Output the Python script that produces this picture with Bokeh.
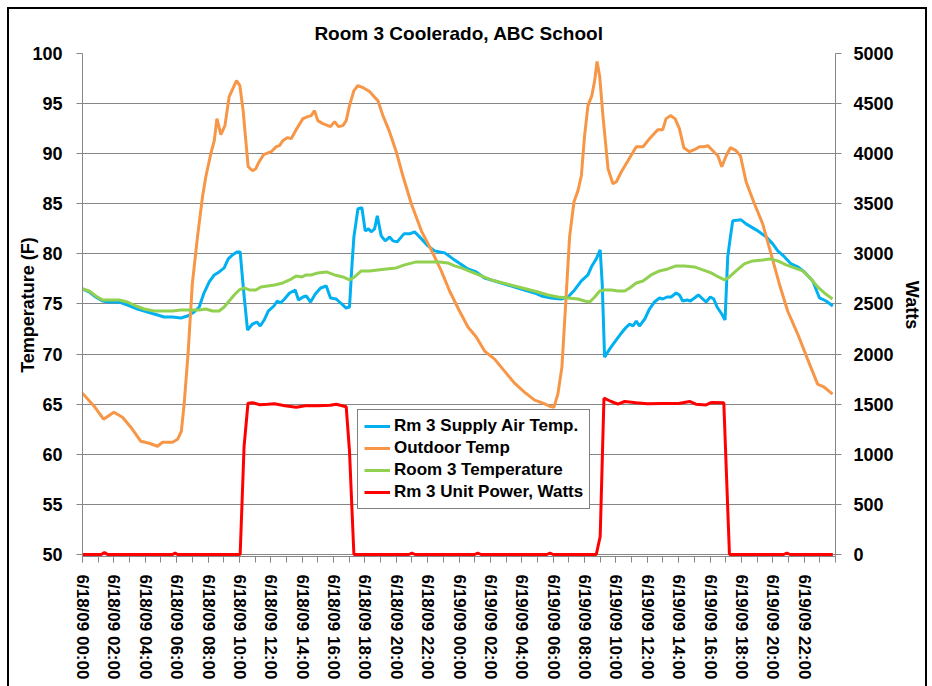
from bokeh.plotting import figure
from bokeh.models import Range1d, LinearAxis, FixedTicker, Legend, LegendItem
from bokeh.embed import file_html
from bokeh.resources import INLINE

# ---------------- data (hours since 6/18/09 00:00) ----------------
supply_hours = [0, 0.43, 0.85, 1.28, 1.7, 2.34, 2.87, 3.51, 4.14, 4.78, 5.2, 5.74, 6.27, 6.7, 7.12,
                7.44, 7.72, 8.08, 8.4, 8.71, 9.03, 9.29, 9.56, 9.84, 10.05, 10.27, 10.52, 10.84, 11.12,
                11.33, 11.58, 11.84, 12.2, 12.41, 12.62, 12.88, 13.2, 13.56, 13.77, 14.05, 14.26, 14.54,
                14.84, 15.18, 15.54, 15.81, 16.17, 16.45, 16.81, 17.02, 17.17, 17.3, 17.56, 17.81, 18.02,
                18.23, 18.4, 18.62, 18.79, 19.04, 19.3, 19.58, 19.79, 20.06, 20.49, 20.85, 21.17, 21.49,
                22.02, 22.45, 23.09, 23.62, 24.1, 24.57, 25.1, 25.63, 26.27, 26.9, 27.54, 28.17, 28.82,
                29.25, 29.88, 30.52, 30.95, 31.37, 31.8, 32.22, 32.47, 32.75, 33.0, 33.13, 33.28, 33.6,
                33.92, 34.3, 34.67, 34.88, 35.09, 35.3, 35.5, 35.84, 36.14, 36.46, 36.78, 36.99, 37.26,
                37.52, 37.84, 38.05, 38.26, 38.54, 38.75, 39.01, 39.26, 39.54, 39.75, 40.02, 40.24, 40.45,
                40.75, 40.96, 41.13, 41.3, 41.45, 41.98, 42.3, 42.62, 42.94, 43.22, 43.58, 44.0, 44.32,
                44.75, 45.17, 45.6, 46.02, 46.55, 46.98, 47.4, 47.83]
supply_temp = [76.5, 76.2, 75.7, 75.3, 75.2, 75.2, 74.9, 74.5, 74.2, 73.9, 73.7, 73.7, 73.6, 73.8, 74.2,
               74.7, 76.0, 77.2, 77.9, 78.2, 78.6, 79.5, 79.9, 80.2, 80.2, 76.3, 72.4, 73.0, 73.2,
               72.8, 73.4, 74.3, 74.8, 75.3, 75.1, 75.5, 76.1, 76.4, 75.4, 75.7, 75.8, 75.2,
               76.0, 76.6, 76.8, 75.6, 75.5, 75.1, 74.6, 74.7, 78.7, 81.7, 84.5, 84.6, 82.3,
               82.5, 82.2, 82.5, 83.8, 81.8, 81.3, 81.7, 81.3, 81.2, 82.0, 82.0, 82.2, 81.7,
               80.8, 80.3, 80.1, 79.5, 79.0, 78.5, 78.2, 77.6, 77.3, 77.0, 76.7, 76.4, 76.1,
               75.8, 75.6, 75.5, 75.7, 76.4, 77.3, 77.9, 78.8, 79.5, 80.4, 77.0, 69.7, 70.5,
               71.2, 72.0, 72.7, 73.0, 72.8, 73.3, 72.8, 73.5, 74.5, 75.2, 75.6, 75.5, 75.7,
               75.7, 76.1, 75.9, 75.3, 75.4, 75.3, 75.6, 75.9, 75.5, 75.2, 75.7, 75.5, 74.7,
               74.0, 73.4, 79.7, 81.7, 83.3, 83.4, 83.0, 82.7, 82.4, 82.1, 81.7, 81.0, 80.3,
               79.7, 79.0, 78.7, 78.2, 77.3, 75.6, 75.3, 74.8]

outdoor_hours = [0, 0.74, 1.34, 2.0, 2.55, 3.08, 3.72, 4.25, 4.78, 5.1, 5.74, 6.06, 6.3, 6.48, 6.74, 7.0,
                 7.33, 7.65, 7.86, 8.18, 8.4, 8.57, 8.82, 9.08, 9.35, 9.82, 10.03, 10.24, 10.41, 10.56,
                 10.84, 11.05, 11.26, 11.54, 12.03, 12.35, 12.56, 12.77, 13.05, 13.3, 13.62, 14.05,
                 14.37, 14.58, 14.79, 15.0, 15.32, 15.81, 16.07, 16.32, 16.6, 16.81, 17.02, 17.3, 17.56,
                 17.87, 18.3, 18.58, 18.83, 19.15, 19.57, 20.0, 20.42, 20.96, 21.6, 22.23, 22.87, 23.4,
                 24.03, 24.57, 25.1, 25.63, 26.27, 26.9, 27.54, 28.17, 28.82, 29.35, 29.78, 30.05, 30.3,
                 30.56, 30.8, 31.05, 31.33, 31.58, 31.8, 32.0, 32.22, 32.47, 32.65, 32.8, 32.97, 33.18,
                 33.5, 33.81, 34.03, 34.35, 34.77, 35.3, 35.73, 36.2, 36.67, 36.99, 37.2, 37.48, 37.77,
                 38.05, 38.33, 38.69, 39.01, 39.33, 39.64, 39.86, 40.18, 40.5, 40.75, 41.03, 41.3, 41.66,
                 41.94, 42.3, 42.83, 43.36, 43.89, 44.42, 44.95, 45.59, 46.22, 46.86, 47.28, 47.81]
outdoor_temp = [66.1, 64.8, 63.5, 64.2, 63.7, 62.7, 61.3, 61.1, 60.8, 61.2, 61.2, 61.5, 62.3, 65.0, 70.3, 77.0,
                81.7, 85.7, 87.7, 90.0, 91.3, 93.5, 91.9, 92.8, 95.7, 97.3, 96.8, 94.3, 91.3, 88.7,
                88.3, 88.5, 89.2, 89.9, 90.2, 90.7, 90.8, 91.3, 91.6, 91.5, 92.4, 93.5,
                93.7, 93.8, 94.3, 93.3, 93.0, 92.7, 93.2, 92.7, 92.8, 93.3, 94.8, 96.3, 96.8,
                96.6, 96.2, 95.7, 95.3, 93.8, 92.2, 90.2, 87.8, 85.0, 82.3, 80.4, 78.3, 76.3,
                74.3, 72.7, 71.7, 70.3, 69.5, 68.3, 67.1, 66.2, 65.4, 65.1, 64.8, 64.7, 66.0,
                68.7, 75.0, 81.7, 85.2, 86.3, 87.8, 91.7, 94.8, 95.8, 97.3, 99.2, 97.7, 93.7,
                88.5, 87.0, 87.2, 88.2, 89.3, 90.7, 90.7, 91.6, 92.4, 92.4, 93.5, 93.8, 93.5,
                92.5, 90.6, 90.2, 90.4, 90.7, 90.7, 90.8, 90.3, 89.8, 88.7, 89.8, 90.6, 90.3,
                89.8, 87.2, 85.0, 83.0, 80.0, 77.0, 74.3, 72.0, 69.5, 67.0, 66.7, 66.0]

room_hours = [0, 0.43, 0.85, 1.28, 1.81, 2.34, 2.87, 3.4, 3.93, 4.57, 5.2, 5.74, 6.27, 6.91, 7.44, 7.86,
              8.29, 8.71, 9.03, 9.35, 9.67, 9.99, 10.31, 10.63, 11.05, 11.37, 11.8, 12.24, 12.77, 13.2,
              13.62, 13.99, 14.26, 14.58, 15.0, 15.54, 16.07, 16.6, 17.02, 17.34, 17.77, 18.3, 18.83,
              19.36, 20.0, 20.53, 21.28, 22.02, 22.76, 23.29, 23.72, 24.15, 24.78, 25.42, 26.06, 26.8,
              27.54, 28.29, 29.03, 29.67, 30.31, 30.95, 31.58, 32.01, 32.33, 32.65, 32.97, 33.28, 33.71,
              34.13, 34.56, 34.88, 35.3, 35.73, 36.24, 36.78, 37.31, 37.84, 38.37, 39.01, 39.54, 40.07,
              40.54, 40.92, 41.24, 41.66, 42.19, 42.72, 43.36, 43.79, 44.32, 44.85, 45.38, 45.91, 46.44,
              46.86, 47.29, 47.81]
room_temp = [76.5, 76.3, 75.8, 75.4, 75.4, 75.4, 75.2, 74.8, 74.5, 74.3, 74.3, 74.3, 74.4, 74.4, 74.4, 74.5,
             74.3, 74.3, 74.7, 75.3, 75.9, 76.4, 76.6, 76.4, 76.4, 76.7, 76.8, 76.9, 77.1, 77.4,
             77.8, 77.7, 77.9, 77.9, 78.1, 78.2, 77.9, 77.7, 77.4, 77.7, 78.3, 78.3, 78.4,
             78.5, 78.6, 78.9, 79.2, 79.2, 79.2, 79.1, 78.8, 78.6, 78.2, 77.8, 77.4, 77.1,
             76.8, 76.5, 76.2, 75.9, 75.7, 75.6, 75.5, 75.3, 75.2, 75.7, 76.3, 76.4, 76.4,
             76.3, 76.3, 76.6, 77.1, 77.3, 77.9, 78.3, 78.5, 78.8, 78.8, 78.7, 78.4, 78.1,
             77.7, 77.4, 77.7, 78.3, 79.0, 79.3, 79.4, 79.5, 79.3, 78.9, 78.6, 78.3, 77.5,
             76.7, 76.1, 75.5]

power_hours = [0, 1.2, 1.4, 1.6, 5.75, 5.9, 6.05, 10.05, 10.3, 10.55, 10.85, 11.3, 11.8, 12.24, 12.9,
               13.62, 14.2, 15.0, 15.8, 16.17, 16.81, 17.02, 17.3, 20.8, 21.0, 21.2, 25.0, 25.2, 25.4,
               29.6, 29.8, 30.0, 32.75, 33.0, 33.24, 33.7, 34.13, 34.56, 35.3, 36.0, 37.0, 38.0, 38.7,
               39.1, 39.75, 40.1, 40.88, 41.24, 44.7, 44.9, 45.1, 47.83]
power_watts = [0, 0, 20, 0, 0, 15, 0, 0, 1080, 1510, 1515, 1495, 1500, 1505, 1485,
               1470, 1485, 1485, 1490, 1500, 1475, 1030, 0, 0, 15, 0, 0, 15, 0,
               0, 15, 0, 0, 180, 1560, 1527, 1500, 1527, 1515, 1505, 1507, 1507, 1527,
               1500, 1493, 1517, 1515, 0, 0, 15, 0, 0]

tick_hours = list(range(0, 48, 2))
tick_labels = ["6/18/09 00:00", "6/18/09 02:00", "6/18/09 04:00", "6/18/09 06:00",
               "6/18/09 08:00", "6/18/09 10:00", "6/18/09 12:00", "6/18/09 14:00",
               "6/18/09 16:00", "6/18/09 18:00", "6/18/09 20:00", "6/18/09 22:00",
               "6/19/09 00:00", "6/19/09 02:00", "6/19/09 04:00", "6/19/09 06:00",
               "6/19/09 08:00", "6/19/09 10:00", "6/19/09 12:00", "6/19/09 14:00",
               "6/19/09 16:00", "6/19/09 18:00", "6/19/09 20:00", "6/19/09 22:00"]
temp_ticks = list(range(50, 101, 5))
watt_ticks = list(range(0, 5001, 500))

# ---------------- figure ----------------
FONT = "Liberation Sans"
GRAY = "#868686"

p = figure(width=920, height=679, x_range=Range1d(0, 48), y_range=Range1d(49.8, 100),
           output_backend="svg", toolbar_location=None,
           min_border_left=75, min_border_right=92, min_border_top=46, min_border_bottom=130)
p.styles = {"margin": "7px 0 0 7px",
            "box-shadow": "inset 2px 0 0 0 #000, inset -2px 0 0 0 #000, inset 0 2px 0 0 #000"}
p.outline_line_color = None
p.background_fill_color = "white"
p.border_fill_color = "white"
p.border_fill_alpha = 0

p.title.text = "Room 3 Coolerado, ABC School"
p.title.align = "center"
p.title.text_font = FONT
p.title.text_font_size = "19px"
p.title.text_font_style = "bold"
p.title.text_color = "black"
p.title.standoff = 20

p.extra_y_ranges = {"watts": Range1d(-20, 5000)}

# grid
p.xgrid.grid_line_color = None
p.ygrid.grid_line_color = GRAY
p.ygrid.grid_line_width = 1
p.ygrid.ticker = FixedTicker(ticks=temp_ticks)

# x axis
xa = p.xaxis[0]
xa.ticker = FixedTicker(ticks=tick_hours, minor_ticks=list(range(0, 49)))
xa.major_label_overrides = {h: lab for h, lab in zip(tick_hours, tick_labels)}
xa.major_label_orientation = "vertical"
xa.axis_line_color = GRAY
xa.major_tick_line_color = GRAY
xa.minor_tick_line_color = GRAY
xa.major_tick_out = 6
xa.major_tick_in = 0
xa.minor_tick_out = 6
xa.minor_tick_in = 0
xa.major_label_standoff = 12
xa.major_label_text_font = FONT
xa.major_label_text_font_size = "17px"
xa.major_label_text_font_style = "bold"
xa.major_label_text_color = "black"


def style_y(ax, standoff, label_standoff):
    ax.axis_line_color = GRAY
    ax.major_tick_line_color = GRAY
    ax.minor_tick_line_color = None
    ax.major_tick_out = 6
    ax.major_tick_in = 0
    ax.major_label_standoff = standoff
    ax.major_label_text_font = FONT
    ax.major_label_text_font_size = "18px"
    ax.major_label_text_font_style = "bold"
    ax.major_label_text_color = "black"
    ax.axis_label_text_font = FONT
    ax.axis_label_text_font_size = "18px"
    ax.axis_label_text_font_style = "bold"
    ax.axis_label_text_color = "black"
    ax.axis_label_standoff = label_standoff


ya = p.yaxis[0]
ya.ticker = FixedTicker(ticks=temp_ticks)
ya.axis_label = "Temperature (F)"
style_y(ya, 14, -9)

ra = LinearAxis(y_range_name="watts", ticker=FixedTicker(ticks=watt_ticks), axis_label="Watts")
style_y(ra, 12, 5)
p.add_layout(ra, "right")

# series
r_supply = p.line(supply_hours, supply_temp, line_color="#00B0F0", line_width=3)
r_outdoor = p.line(outdoor_hours, outdoor_temp, line_color="#F79646", line_width=3)
r_room = p.line(room_hours, room_temp, line_color="#92D050", line_width=3)
r_power = p.line(power_hours, power_watts, line_color="#FF0000", line_width=3, y_range_name="watts")

legend = Legend(items=[
    LegendItem(label="Rm 3 Supply Air Temp.", renderers=[r_supply]),
    LegendItem(label="Outdoor Temp", renderers=[r_outdoor]),
    LegendItem(label="Room 3 Temperature", renderers=[r_room]),
    LegendItem(label="Rm 3 Unit Power, Watts", renderers=[r_power]),
], location=(275, 47))
legend.border_line_color = "black"
legend.border_line_width = 1
legend.background_fill_color = "white"
legend.background_fill_alpha = 1
legend.label_text_font = FONT
legend.label_text_font_size = "17px"
legend.label_text_font_style = "bold"
legend.label_text_color = "black"
legend.glyph_width = 26
legend.glyph_height = 20
legend.label_height = 20
legend.label_standoff = 4
legend.spacing = 2
legend.padding = 6
legend.margin = 0
p.add_layout(legend)

open("out.html", "w").write(file_html(p, INLINE))
